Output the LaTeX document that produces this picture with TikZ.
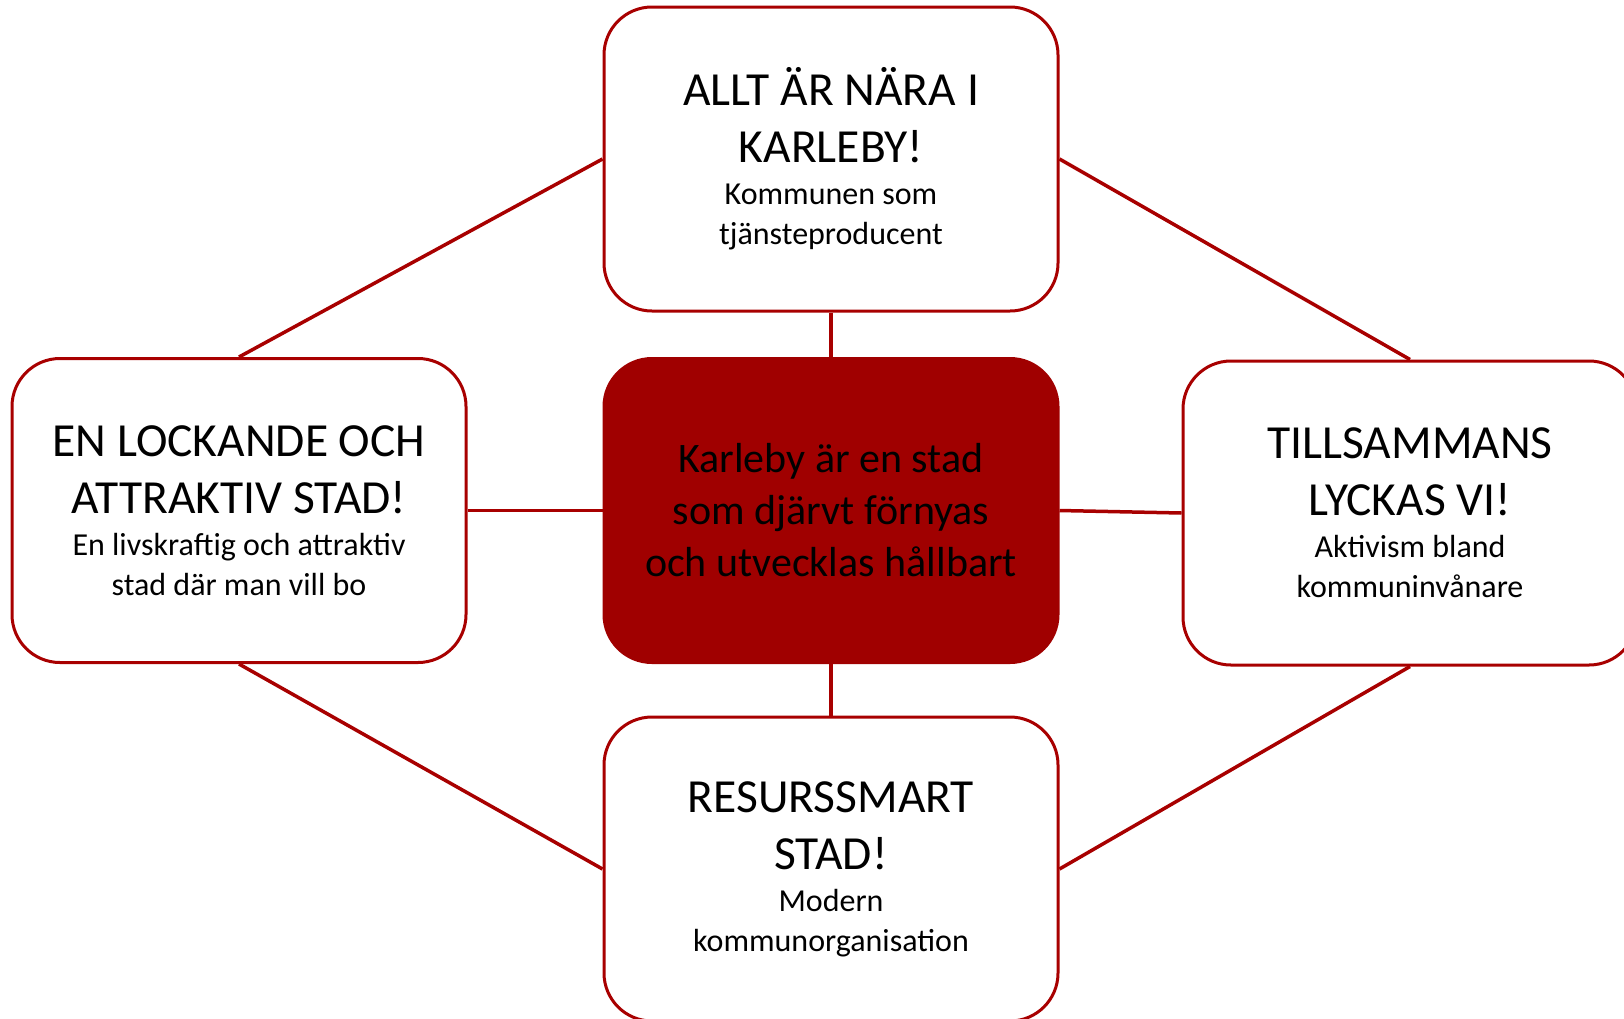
\documentclass[tikz,border=0pt]{standalone}
\usepackage{fontspec}
\setmainfont{Carlito}
\definecolor{karred}{HTML}{A00000}
\definecolor{karline}{HTML}{A80000}
\newcommand\kttl{\fontsize{47.5}{57}\selectfont}
\newcommand\ksub{\fontsize{32}{40}\selectfont}
\begin{document}
\begin{tikzpicture}[x=1pt,y=-1pt,
  box/.style={draw=karline, line width=3pt, fill=white, rounded corners=48pt,
    minimum width=454pt, minimum height=304pt, inner sep=0pt, align=center,
    font=\ksub, text=black},
  hub/.style={box, fill=karred, draw=karred, font=\fontsize{42}{52}\selectfont},
  link/.style={draw=karline, line width=3.5pt}]
\useasboundingbox (0,0) rectangle (1624,1018);
\clip (0,0) rectangle (1624,1018);
\node[box] (topbox) at (831,159) {\kttl ALLT ÄR NÄRA I\\[17pt]\kttl KARLEBY!\\[2pt]Kommunen som\\tjänsteproducent};
\node[box] (leftbox) at (239,510.5) {\kttl EN LOCKANDE OCH\\[17pt]\kttl ATTRAKTIV STAD!\\[2pt]En livskraftig och attraktiv\\stad där man vill bo};
\node[box] (rightbox) at (1410,513) {\kttl TILLSAMMANS\\[17pt]\kttl LYCKAS VI!\\[2pt]Aktivism bland\\kommuninvånare};
\node[box] (bottombox) at (831,869) {\kttl RESURSSMART\\[17pt]\kttl STAD!\\[2pt]Modern\\kommunorganisation};
\node[hub] (hub) at (831,510.5) {Karleby är en stad\\som djärvt förnyas\\och utvecklas hållbart};
\draw[link] (topbox.west) -- (leftbox.north);
\draw[link] (topbox.east) -- (rightbox.north);
\draw[link] (leftbox.south) -- (bottombox.west);
\draw[link] (rightbox.south) -- (bottombox.east);
\draw[link] (leftbox.east) -- (hub.west);
\draw[link] (hub.east) -- (rightbox.west);
\draw[link] (topbox.south) -- (hub.north);
\draw[link] (hub.south) -- (bottombox.north);
\end{tikzpicture}
\end{document}
